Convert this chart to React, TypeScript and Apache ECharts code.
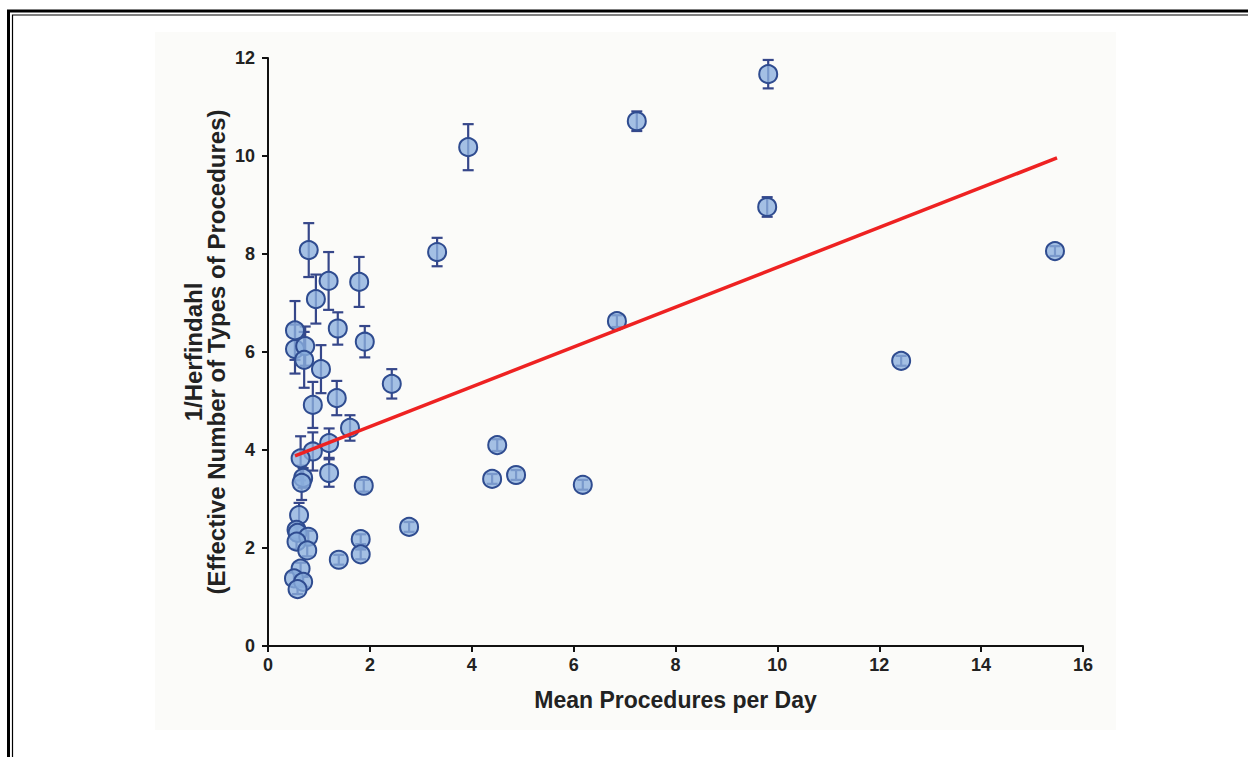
import React, { useEffect, useRef } from "react";
import * as echarts from "echarts";

const xValues = [9.82, 7.24, 3.93, 9.80, 3.32, 15.45, 6.85, 12.43, 2.43, 4.50, 4.40, 4.87, 6.18, 2.77, 1.88, 1.82, 1.82, 1.39,
  0.80, 1.19, 1.79, 0.94, 1.37, 1.90, 0.53, 0.53, 0.73, 0.71, 1.04, 1.35, 0.88, 1.61, 1.20, 0.88, 0.64, 1.20, 0.69, 0.66,
  0.61, 0.56, 0.58, 0.79, 0.56, 0.77, 0.64, 0.51, 0.69, 0.58];
const yValues = [11.67, 10.71, 10.18, 8.96, 8.04, 8.06, 6.63, 5.82, 5.35, 4.10, 3.41, 3.49, 3.29, 2.43, 3.27, 2.18, 1.87, 1.76,
  8.08, 7.45, 7.43, 7.08, 6.48, 6.21, 6.44, 6.06, 6.12, 5.84, 5.65, 5.06, 4.92, 4.45, 4.14, 3.97, 3.83, 3.53, 3.43, 3.33,
  2.67, 2.37, 2.31, 2.23, 2.13, 1.95, 1.58, 1.38, 1.31, 1.16];
const errValues = [0.29, 0.2, 0.47, 0.2, 0.29, 0.1, 0.12, 0.1, 0.3, 0.12, 0.1, 0.1, 0.1, 0.1, 0.12, 0.1, 0.1, 0.1,
  0.55, 0.59, 0.51, 0.5, 0.33, 0.32, 0.6, 0.5, 0.4, 0.57, 0.49, 0.35, 0.47, 0.26, 0.3, 0.39, 0.45, 0.28, 0.2, 0.35,
  0.25, 0.15, 0.15, 0.12, 0.15, 0.12, 0.12, 0.12, 0.1, 0.1];
const fitX = [0.53, 15.49];
const fitY = [3.88, 9.96];
const xTicks = [0, 16, 2];
const yTicks = [0, 12, 2];

const FONT = "'Liberation Sans Narrow', 'Arial Narrow', 'Liberation Sans', Arial, sans-serif";

export default function App() {
  const ref = useRef<HTMLDivElement>(null);
  useEffect(() => {
    if (!ref.current) return;
    const chart = echarts.init(ref.current, undefined, { renderer: "svg" });
    const pts = xValues.map((x, i) => [x, yValues[i]]);
    const errData = xValues.map((x, i) => [x, yValues[i], errValues[i]]);
    chart.setOption({
      animation: false,
      backgroundColor: "#ffffff",
      graphic: [
        { type: "rect", z: -10, shape: { x: 155, y: 32, width: 961, height: 698 }, style: { fill: "#fbfbf9" }, silent: true },
        { type: "rect", z: 100, shape: { x: 8.5, y: 11, width: 1400, height: 900 }, style: { fill: "none", stroke: "#000", lineWidth: 3 }, silent: true },
        { type: "rect", z: 100, shape: { x: 12.5, y: 15, width: 1400, height: 900 }, style: { fill: "none", stroke: "#000", lineWidth: 1.2 }, silent: true },
      ],
      grid: { left: 268, right: 165, top: 58, bottom: 111, containLabel: false },
      xAxis: {
        type: "value", min: xTicks[0], max: xTicks[1], interval: xTicks[2],
        name: "Mean Procedures per Day", nameLocation: "middle", nameGap: 42,
        nameTextStyle: { fontFamily: FONT, fontWeight: "bold", fontSize: 23, color: "#222" },
        axisLine: { show: true, onZero: false, lineStyle: { color: "#111", width: 2 } },
        axisTick: { show: true, length: 6, lineStyle: { color: "#111", width: 2 } },
        axisLabel: { fontFamily: FONT, fontWeight: "bold", fontSize: 18, color: "#222", margin: 10 },
        splitLine: { show: false },
      },
      yAxis: {
        type: "value", min: yTicks[0], max: yTicks[1], interval: yTicks[2],
        name: "1/Herfindahl\n(Effective Number of Types of Procedures)", nameLocation: "middle", nameGap: 40, nameRotate: 90,
        nameMoveOverlap: false,
        nameTextStyle: { fontFamily: FONT, fontWeight: "bold", fontSize: 24, color: "#222", lineHeight: 23, align: "center" },
        axisLine: { show: true, onZero: false, lineStyle: { color: "#111", width: 2 } },
        axisTick: { show: true, length: 6, lineStyle: { color: "#111", width: 2 } },
        axisLabel: { fontFamily: FONT, fontWeight: "bold", fontSize: 18, color: "#222", margin: 13 },
        splitLine: { show: false },
      },
      series: [
        {
          type: "custom",
          z: 2,
          data: errData,
          renderItem: (params: any, api: any) => {
            const x = api.value(0), y = api.value(1), e = api.value(2);
            const top = api.coord([x, y + e]);
            const bot = api.coord([x, y - e]);
            const cw = 5.5;
            const st = { stroke: "#36478a", lineWidth: 2.2 };
            return {
              type: "group",
              children: [
                { type: "line", shape: { x1: top[0], y1: top[1], x2: bot[0], y2: bot[1] }, style: st },
                { type: "line", shape: { x1: top[0] - cw, y1: top[1], x2: top[0] + cw, y2: top[1] }, style: st },
                { type: "line", shape: { x1: bot[0] - cw, y1: bot[1], x2: bot[0] + cw, y2: bot[1] }, style: st },
              ],
            };
          },
        },
        {
          type: "scatter",
          z: 3,
          data: pts,
          symbol: "circle",
          symbolSize: 18,
          itemStyle: { color: "rgba(140,175,222,0.78)", borderColor: "#2f4c90", borderWidth: 2, opacity: 1 },
        },
        {
          type: "line",
          z: 4,
          data: fitX.map((x, i) => [x, fitY[i]]),
          showSymbol: false,
          symbol: "none",
          lineStyle: { color: "#ee2222", width: 3.5 },
        },
      ],
    });
    return () => chart.dispose();
  }, []);
  return <div ref={ref} style={{ position: "fixed", left: 0, top: 0, width: 1248, height: 757 }} />;
}
